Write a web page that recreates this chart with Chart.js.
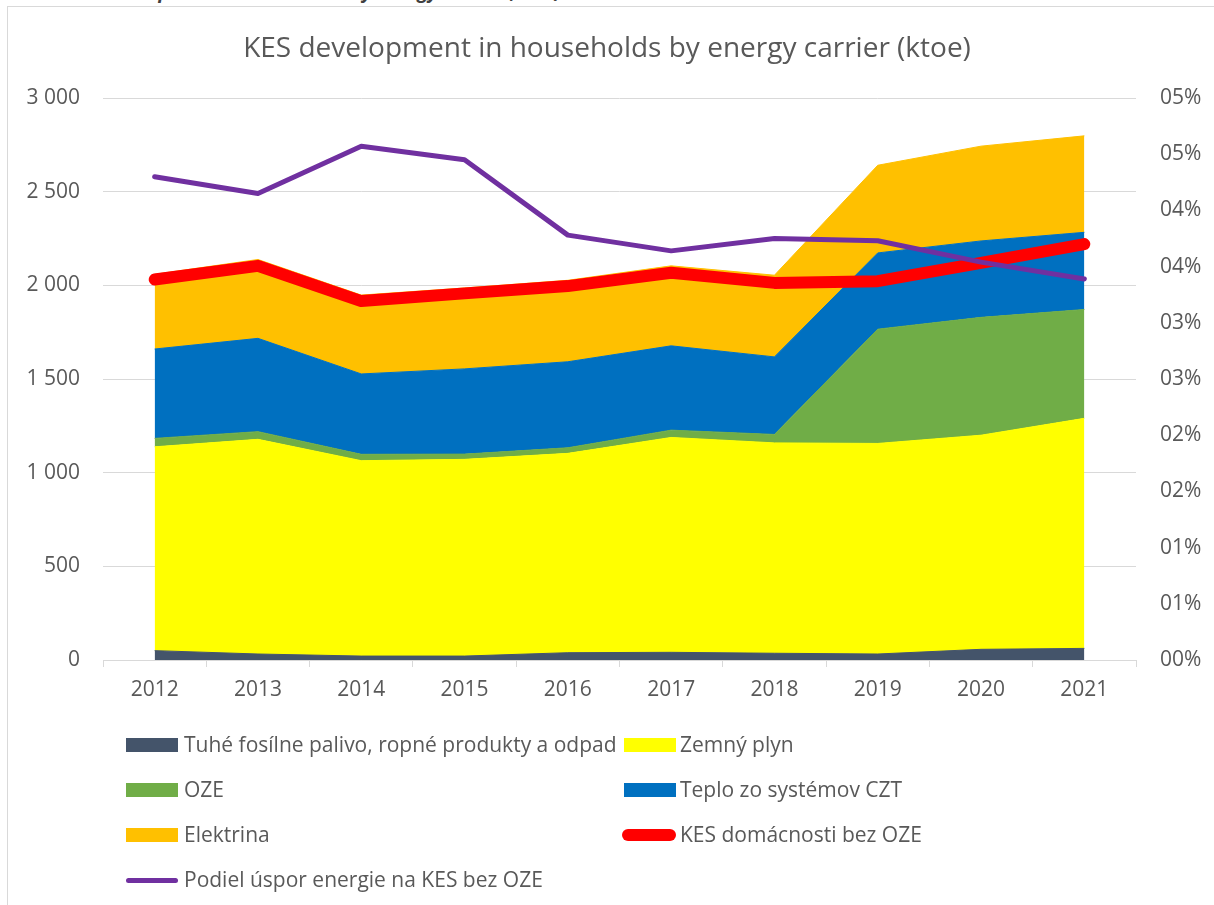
<!DOCTYPE html>
<html><head><meta charset="utf-8">
<script src="https://cdn.jsdelivr.net/npm/chart.js@4/dist/chart.umd.min.js"></script>
<style>
html,body{margin:0;padding:0;background:#fff;}
body{width:1214px;height:905px;position:relative;overflow:hidden;font-family:"Open Sans",sans-serif;}
#cap{position:absolute;left:2px;top:-22px;font-size:19px;font-weight:bold;font-style:italic;color:#404040;white-space:nowrap;}
#frame{position:absolute;left:7px;top:6px;width:1400px;height:1100px;border:1px solid #d9d9d9;}
#c{position:absolute;left:0;top:0;}
#title{position:absolute;left:0;width:1214px;top:27px;text-align:center;font-size:28px;line-height:38px;color:#595959;}
.mk{position:absolute;}
.lt{position:absolute;font-size:21px;line-height:28px;color:#595959;white-space:nowrap;}
</style></head>
<body>
<div id="cap">Chart: KES development in households by energy carrier (ktoe)</div>
<div id="frame"></div>
<canvas id="c" width="1214" height="905"></canvas>
<div id="title">KES development in households by energy carrier (ktoe)</div>
<div id="legend"></div>
<script>
const years = ['2012','2013','2014','2015','2016','2017','2018','2019','2020','2021'];
const tuhe = [50,32,21,21,39,41,36,32,57,62];
const zemnyPlyn = [1088,1146,1043,1050,1064,1147,1123,1124,1143,1228];
const oze = [45,41,34,28,30,39,45,610,629,581];
const teplo = [477,498,429,455,459,450,414,407,408,412];
const elektrina = [399,421,421,432,435,427,436,468,506,515];
const kesBezOze = [2031,2104,1916,1957,1996,2067,2013,2022,2120,2220];
const podielUspor = [0.0430,0.0415,0.0457,0.0445,0.0378,0.0364,0.0375,0.0373,0.0354,0.0339];
const leftTickLabels = ['0','500','1 000','1 500','2 000','2 500','3 000'];
const rightTickLabels = ['00%','01%','01%','02%','02%','03%','03%','04%','04%','05%','05%'];
const seriesNames = ['Tuhé fosílne palivo, ropné produkty a odpad','Zemný plyn','OZE','Teplo zo systémov CZT','Elektrina','KES domácnosti bez OZE','Podiel úspor energie na KES bez OZE'];
const colors = ['#44546a','#ffff00','#70ad47','#0070c0','#ffc000','#ff0000','#7030a0'];

const TXT = '#595959', GRID = '#d9d9d9';
const tickFont = {family:'"Open Sans", sans-serif', size:21};

function area(i, data){
  return {label:seriesNames[i], data, stack:'areas', yAxisID:'y',
    backgroundColor:colors[i], borderColor:colors[i], borderWidth:1,
    pointRadius:0, fill: i===0 ? 'origin' : '-1', tension:0};
}
const datasets = [
  {label:seriesNames[6], data:podielUspor, yAxisID:'y1', borderColor:colors[6], backgroundColor:colors[6],
   borderWidth:5, pointRadius:0, fill:false, borderCapStyle:'round', borderJoinStyle:'round'},
  {label:seriesNames[5], data:kesBezOze, yAxisID:'y', stack:'kes', borderColor:colors[5], backgroundColor:colors[5],
   borderWidth:12, pointRadius:0, fill:false, borderCapStyle:'round', borderJoinStyle:'round'},
  area(0, tuhe), area(1, zemnyPlyn), area(2, oze), area(3, teplo), area(4, elektrina)
];

new Chart(document.getElementById('c'), {
  type:'line',
  data:{labels:years, datasets},
  options:{
    responsive:false, animation:false, devicePixelRatio:1,
    layout:{padding:{top:98,bottom:185,left:0,right:0}},
    plugins:{legend:{display:false}, title:{display:false}, tooltip:{enabled:false}},
    scales:{
      x:{offset:true,
         grid:{offset:true, drawOnChartArea:false, drawTicks:true, tickLength:7, color:GRID},
         border:{color:GRID},
         ticks:{font:tickFont, color:TXT, padding:10},
         afterFit:s=>{s.height=60;}},
      y:{stacked:true, min:0, max:3000, position:'left',
         ticks:{stepSize:500, font:tickFont, color:TXT, padding:23,
                callback:(v,i)=>leftTickLabels[i]},
         grid:{color:GRID, lineWidth:1, drawTicks:false},
         border:{display:false},
         afterFit:s=>{s.width=103;}},
      y1:{position:'right', min:0, max:0.05,
         ticks:{stepSize:0.005, font:tickFont, color:TXT, padding:24,
                callback:(v,i)=>rightTickLabels[i]},
         grid:{drawOnChartArea:false, drawTicks:false},
         border:{display:false},
         afterFit:s=>{s.width=78;}}
    }
  }
});

// custom legend
const legendPos = [
  {x:126,y:745},{x:624,y:745},
  {x:126,y:790},{x:624,y:790},
  {x:126,y:835},{x:622,y:835},
  {x:126,y:880}
];
const lg = document.getElementById('legend');
seriesNames.forEach((name,i)=>{
  const p = legendPos[i];
  const mk = document.createElement('div');
  mk.className='mk';
  if(i<5){
    Object.assign(mk.style,{left:p.x+'px',top:(p.y-7)+'px',width:'52px',height:'14px',background:colors[i]});
  } else if(i===5){
    Object.assign(mk.style,{left:p.x+'px',top:(p.y-6)+'px',width:'54px',height:'12px',background:colors[i],borderRadius:'6px'});
  } else {
    Object.assign(mk.style,{left:p.x+'px',top:(p.y-2.5)+'px',width:'52px',height:'5px',background:colors[i],borderRadius:'3px'});
  }
  lg.appendChild(mk);
  const t = document.createElement('div');
  t.className='lt';
  t.textContent=name;
  Object.assign(t.style,{left:(i%2===0 ? 184 : 680)+'px', top:(p.y-15)+'px'});
  lg.appendChild(t);
});
</script>
</body></html>
